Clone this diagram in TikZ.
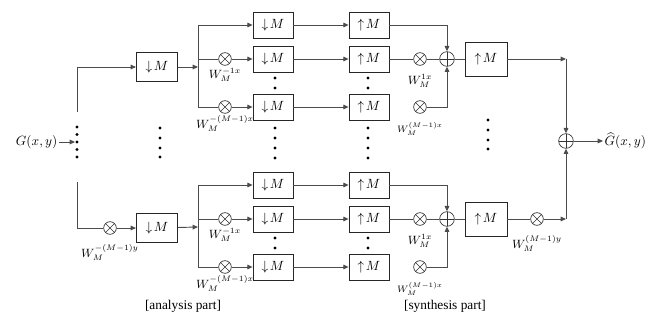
\documentclass[tikz,border=0pt]{standalone}
\usepackage{fontspec}
\setmainfont{Liberation Serif}
\usetikzlibrary{arrows.meta,positioning}
% one filter bank: split, three branches, recombination
\newcommand{\bank}{%
  \coordinate (sp) at (198,67);
  \coordinate (sa) at (198,25);
  \coordinate (sb) at (198,107);
  \node[blk] (d1) at (273,25) {$\downarrow\!M$};
  \node[mult] (m2) at (225,59) {};
  \node[blk] (d2) at (273,59) {$\downarrow\!M$};
  \node[mult] (m3) at (225,107) {};
  \node[blk] (d3) at (273,107) {$\downarrow\!M$};
  \node[wlab, below=1pt of m2] (w2) {$W_M^{-1x}$};
  \node[wlab, below=1pt of m3] (w3) {$W_M^{-(M-1)x}$};
  \node[blk] (u1) at (369,25) {$\uparrow\!M$};
  \node[blk] (u2) at (369,59) {$\uparrow\!M$};
  \node[blk] (u3) at (369,107) {$\uparrow\!M$};
  \node[mult] (n2) at (420,59) {};
  \node[mult] (n3) at (420,107) {};
  \node[wlab, below=6pt of n2] (v2) {$W_M^{1x}$};
  \node[wlab, below=6pt of n3, font=\scriptsize] (v3) {$W_M^{(M-1)x}$};
  \node[add] (s) at (447,59) {};
  \node[upblk] (U) at (486,59) {$\uparrow\!M$};
  \draw[wire] (sa) -- (sb);
  \draw[arr] (sa) -- (d1);
  \draw[wire] (sp |- m2) -- (m2);
  \draw[wire] (sp |- m3) -- (m3);
  \draw[arr] (m2) -- (d2);
  \draw[arr] (m3) -- (d3);
  \draw[arr] (d1) -- (u1);
  \draw[arr] (d2) -- (u2);
  \draw[arr] (d3) -- (u3);
  \draw[arr] (u1) -| (s);
  \draw[wire] (u2) -- (n2);
  \draw[wire] (n2) -- (s);
  \draw[arr] (n3) -| (s);
  \draw[wire] (s) -- (U);
  \foreach \y in {78,88} {\fill (275,\y) circle (1.2pt); \fill (368,\y) circle (1.2pt);}
}

\begin{document}
\begin{tikzpicture}[x=0.75pt, y=-0.75pt,
  blk/.style={draw=black!85, line width=0.6pt, minimum width=30pt,
              minimum height=19.5pt, inner sep=0pt},
  bigblk/.style={blk, minimum width=31pt, minimum height=22pt},
  upblk/.style={blk, minimum width=31.5pt, minimum height=25.5pt},
  mult/.style={circle, draw=black!80, line width=0.5pt, minimum size=9.5pt,
               inner sep=0pt, path picture={\draw[black!80, line width=0.5pt]
               (path picture bounding box.north west) -- (path picture bounding box.south east)
               (path picture bounding box.south west) -- (path picture bounding box.north east);}},
  add/.style={circle, draw=black!80, line width=0.5pt, minimum size=11pt,
              inner sep=0pt, path picture={\draw[black!80, line width=0.5pt]
              (path picture bounding box.north) -- (path picture bounding box.south)
              (path picture bounding box.west) -- (path picture bounding box.east);}},
  wlab/.style={font=\small, inner sep=0.5pt},
  wire/.style={draw=black!70, line width=0.7pt},
  arr/.style={wire, -{Triangle[length=4pt, width=3.5pt]}}]

\useasboundingbox (0,0) rectangle (665,324);

\node[anchor=east, inner sep=1pt] (G) at (59,142) {$G(x,y)$};
\coordinate (din) at (75,142);
\draw[arr] (G) -- (din);
\foreach \y in {127,134.5,142,149.5,157} \fill (77,\y) circle (1.2pt);
\coordinate (ta) at (77,112);
\coordinate (ba) at (77,182);

% upper section
\node[bigblk] (tD) at (157,67) {$\downarrow\!M$};
\begin{scope}[name prefix=t-]
  \bank
\end{scope}
\draw[arr] (ta) |- (tD);
\draw[arr] (tD) -- (t-sp);

% lower section
\node[mult] (bm) at (110,228) {};
\node[wlab, below=7pt of bm] (bw) {$W_M^{-(M-1)y}$};
\node[bigblk] (bD) at (157,228) {$\downarrow\!M$};
\begin{scope}[yshift=-120pt, name prefix=b-]
  \bank
\end{scope}
\draw[wire] (ba) |- (bm);
\draw[arr] (bm) -- (bD);
\draw[arr] (bD) -- (b-sp);
\node[mult] (bn) at (537,219) {};
\node[wlab, below=7pt of bn] (bv) {$W_M^{(M-1)y}$};
\draw[wire] (b-U) -- (bn);

% output
\node[add] (sum) at (566,141) {};
\coordinate (tc) at (t-U -| sum);
\coordinate (bc) at (bn -| sum);
\draw[arr] (t-U) -- (tc);
\draw[arr] (tc) -- (sum);
\draw[arr] (bn) -- (bc);
\draw[arr] (bc) -- (sum);
\node[anchor=west, inner sep=1pt] (Gh) at (603,141) {$\widehat{G}(x,y)$};
\draw[arr] (sum) -- (Gh);

\foreach \y in {128,138,148,157} \fill (160,\y) circle (1.2pt);
\foreach \y in {128,138,148,158} {\fill (275,\y) circle (1.2pt); \fill (368,\y) circle (1.2pt);}
\foreach \y in {120,130,140,149} \fill (488,\y) circle (1.2pt);

\node (ana) at (183,306) {[analysis part]};
\node (syn) at (445,306) {[synthesis part]};
\end{tikzpicture}
\end{document}
